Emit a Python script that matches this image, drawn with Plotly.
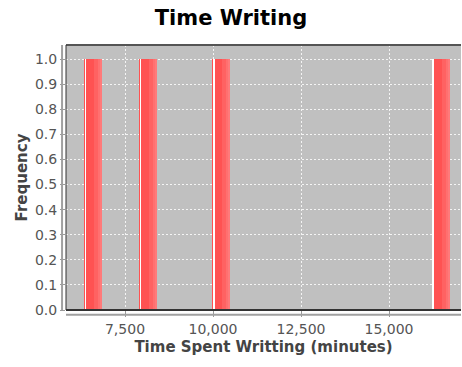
import plotly.graph_objects as go

# histogram bins (minutes) and counts
bin_left = [6335, 7895, 9975, 16215]
bin_width = 520
counts = [1, 1, 1, 1]

x_ticks = [7500, 10000, 12500, 15000]
y_ticks = [0.0, 0.1, 0.2, 0.3, 0.4, 0.5, 0.6, 0.7, 0.8, 0.9, 1.0]

fig = go.Figure()

# gradient-ish bar painter: base plus lighter strips to the right
strips = [
    (0.00, 1.00, "#ff5252"),
    (0.55, 0.45, "#ff6262"),
    (0.75, 0.25, "#ff7070"),
    (0.90, 0.10, "#ff7a7a"),
]
for off, w, col in strips:
    fig.add_trace(go.Bar(
        x=bin_left, y=counts,
        width=[bin_width * w] * len(bin_left),
        offset=[bin_width * off] * len(bin_left),
        marker=dict(color=col, line=dict(width=0)),
        hoverinfo="skip", showlegend=False,
    ))
# white highlight line near the left edge
fig.add_trace(go.Bar(
    x=bin_left, y=counts,
    width=[24] * len(bin_left),
    offset=[32] * len(bin_left),
    marker=dict(color="#ffffff", line=dict(width=0)),
    hoverinfo="skip", showlegend=False,
))

fig.update_layout(
    width=462, height=367,
    margin=dict(l=66, r=1, t=45, b=57),
    paper_bgcolor="white",
    plot_bgcolor="#c0c0c0",
    barmode="overlay",
    bargap=0,
    font=dict(family="DejaVu Sans", size=12, color="#444444"),
    title=dict(text="<b>Time Writing</b>", x=0.5, xanchor="center",
               y=0.972, yanchor="top",
               font=dict(family="DejaVu Sans", size=21, color="black")),
    xaxis=dict(
        range=[5824, 17045],
        tickvals=x_ticks, tickformat=",d",
        showgrid=True, gridcolor="#f4f4f4", griddash="2px,2px", gridwidth=1,
        zeroline=False, showline=False, automargin=False,
        ticks="outside", ticklen=6, tickcolor="#999999",
        tickfont=dict(size=14, color="#555555"),
        title=dict(text="<b>Time Spent Writting (minutes)</b>", standoff=5,
                   font=dict(size=15, color="#444444")),
    ),
    yaxis=dict(
        range=[0, 1.056],
        tickvals=y_ticks, tickformat=".1f",
        showgrid=True, gridcolor="#f4f4f4", griddash="2px,2px", gridwidth=1,
        zeroline=False, showline=False, automargin=False,
        ticks="outside", ticklen=5, tickcolor="#999999",
        tickfont=dict(size=14, color="#555555"),
        title=dict(text="<b>Frequency</b>", standoff=3,
                   font=dict(size=15, color="#444444")),
    ),
    shapes=[
        # plot outline
        dict(type="line", xref="paper", yref="paper", x0=0, x1=1, y0=1, y1=1,
             line=dict(color="#555555", width=2)),
        dict(type="line", xref="paper", yref="paper", x0=0, x1=1, y0=0, y1=0,
             line=dict(color="#333333", width=2)),
        dict(type="line", xref="paper", yref="paper", x0=0, x1=0, y0=0, y1=1,
             line=dict(color="#333333", width=1)),
        # offset axis lines
        dict(type="line", xref="paper", yref="paper", x0=0, x1=1,
             y0=-0.018, y1=-0.018, line=dict(color="#a0a0a0", width=2)),
        dict(type="line", xref="paper", yref="paper", x0=-0.01, x1=-0.01,
             y0=0, y1=1, line=dict(color="#a0a0a0", width=2)),
    ],
)

# drop the default 8px body margin so the figure fills the window
fig.write_html("out.html", config={"displayModeBar": False},
               post_script="document.body.style.margin='0';")
